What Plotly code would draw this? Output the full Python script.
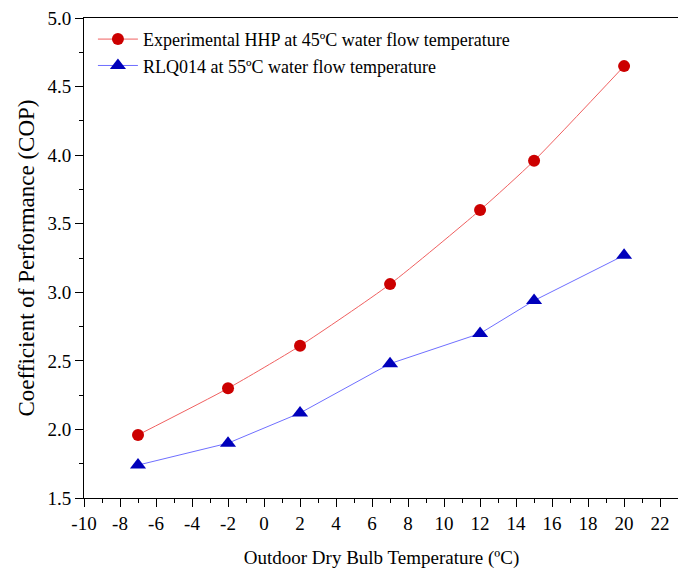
import plotly.graph_objects as go

# data
temps = [-7, -2, 2, 7, 12, 15, 20]
cop_hhp = [1.96, 2.30, 2.61, 3.06, 3.60, 3.96, 4.65]
cop_rlq = [1.74, 1.90, 2.12, 2.48, 2.70, 2.94, 3.27]

x_ticks = list(range(-10, 23, 2))
y_ticks = [1.5, 2.0, 2.5, 3.0, 3.5, 4.0, 4.5, 5.0]

FONT = "Liberation Serif"

fig = go.Figure()

fig.add_trace(go.Scatter(
    x=temps, y=cop_hhp, mode="lines+markers",
    name="Experimental HHP at 45ºC water flow temperature",
    line=dict(color="#f06060", width=1, shape="spline", smoothing=0.6),
    marker=dict(symbol="circle", size=12, color="#cc0000")))

fig.add_trace(go.Scatter(
    x=temps, y=cop_rlq, mode="lines+markers",
    name="RLQ014 at 55ºC water flow temperature",
    line=dict(color="#6f6fff", width=1),
    marker=dict(symbol="triangle-up", size=14, color="#0000bb")))

# page body has an 8px margin, so size/margins are trimmed to compensate
fig.update_layout(
    width=678, height=563,
    margin=dict(l=76, r=7, t=10, b=73),
    paper_bgcolor="white", plot_bgcolor="white",
    font=dict(family=FONT, size=19, color="black"),
    showlegend=True,
    legend=dict(x=0.015, y=0.994, xanchor="left", yanchor="top",
                bgcolor="rgba(0,0,0,0)", font=dict(family=FONT, size=18),
                tracegroupgap=0, itemwidth=40),
)

fig.update_xaxes(
    range=[-10, 23.05], tickvals=x_ticks, ticktext=[str(v) for v in x_ticks],
    ticks="outside", ticklen=8, tickwidth=1, tickcolor="black",
    minor=dict(dtick=1, tick0=0, ticks="outside", ticklen=4, tickcolor="black"),
    showline=True, linecolor="black", linewidth=1, mirror=True,
    showgrid=False, zeroline=False, automargin=False, ticklabeloverflow="allow",
    title=dict(text="Outdoor Dry Bulb Temperature (ºC)", font=dict(size=19), standoff=17),
)
fig.update_yaxes(
    range=[1.5, 5.001], tickvals=y_ticks, ticktext=[f"{v:.1f}" for v in y_ticks],
    ticks="outside", ticklen=8, tickwidth=1, tickcolor="black",
    minor=dict(dtick=0.25, tick0=1.5, ticks="outside", ticklen=4, tickcolor="black"),
    showline=True, linecolor="black", linewidth=1, mirror=True,
    showgrid=False, zeroline=False, automargin=False, ticklabeloverflow="allow",
    title=dict(text="Coefficient of Performance (COP)", font=dict(size=23), standoff=6),
)

fig.write_html("out.html")
